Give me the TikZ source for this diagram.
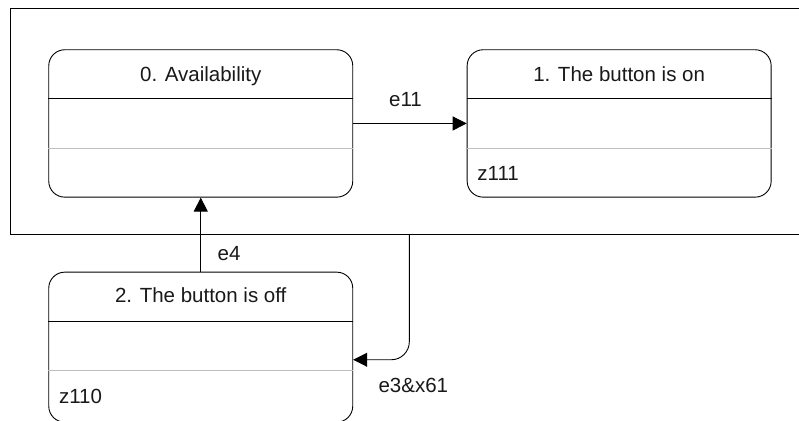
\documentclass[tikz,border=0pt]{standalone}
\usepackage{fontspec}
\setmainfont{Liberation Sans}
\usetikzlibrary{arrows.meta}
\begin{document}
\begin{tikzpicture}[x=1pt,y=-1pt,
  every node/.style={font=\fontsize{20.5}{24}\selectfont, text=black!90},
  frame/.style={draw, line width=0.9pt, minimum width=810pt, minimum height=225.5pt, inner sep=0pt, anchor=north west},
  statebox/.style={draw, line width=0.9pt, rounded corners=16pt, minimum width=304pt, minimum height=147.4pt, inner sep=0pt, anchor=north west},
  hdrline/.style={line width=0.9pt},
  sepline/.style={line width=0.9pt, draw=black!25},
  conn/.style={line width=0.9pt, -{Triangle[length=14pt,width=14pt]}},
  title/.style={anchor=base, inner sep=0pt},
  action/.style={anchor=base west, inner sep=0pt},
  lbl/.style={anchor=base, inner sep=0pt}
]
\useasboundingbox (0,0) rectangle (799,420);
\clip (0,0) rectangle (799,420);
\fill[white] (0,0) rectangle (799,420);

\node[frame] (outer) at (10,8) {};

\node[statebox] (s0) at (48.3,49.3) {};
\node[statebox] (s1) at (466.7,49.3) {};
\node[statebox, minimum height=150pt] (s2) at (48.3,271.7) {};

\foreach \s in {s0,s1,s2}{
  \draw[hdrline] ([yshift=-49.6pt]\s.north west) -- ([yshift=-49.6pt]\s.north east);
  \draw[sepline] ([yshift=-99pt]\s.north west) -- ([yshift=-99pt]\s.north east);
}

\node[title] (t0) at ([yshift=-31.7pt]s0.north) {0. Availability};
\node[title] (t1) at ([yshift=-31.7pt]s1.north) {1. The button is on};
\node[title] (t2) at ([yshift=-31.2pt]s2.north) {2. The button is off};

\node[action] (a1) at ([xshift=10.5pt,yshift=-130.7pt]s1.north west) {z111};
\node[action] (a2) at ([xshift=10.5pt,yshift=-132pt]s2.north west) {z110};

\draw[conn] (s0.east) -- (s1.west);
\node[lbl] (l11) at (405.5,106.5) {e11};

\draw[conn] (s2.north) -- (s0.south);
\node[lbl] (l4) at (229,260) {e4};

\coordinate (c3) at ([xshift=399.3pt]outer.south west);
\draw[conn, rounded corners=18pt] (c3) |- ([yshift=-12.6pt]s2.east);
\node[lbl] (l3) at (413.3,392) {e3\&x61};
\end{tikzpicture}
\end{document}
